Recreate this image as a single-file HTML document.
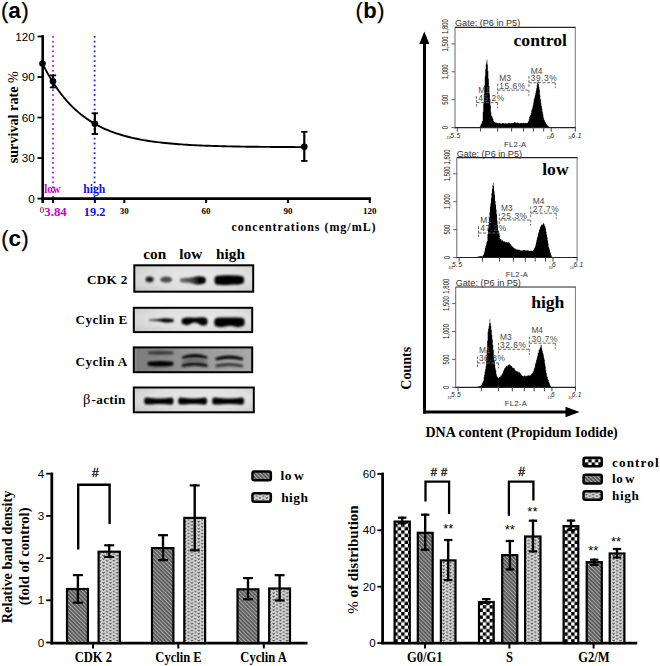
<!DOCTYPE html>
<html><head><meta charset="utf-8"><style>
html,body{margin:0;padding:0;background:#fff;}
svg{display:block;}
</style></head><body>
<svg width="660" height="666" viewBox="0 0 660 666">
<rect width="660" height="666" fill="#fff"/>
<text x="1.00" y="17.70" font-family='"Liberation Sans", sans-serif' font-size="21.7" font-weight="normal" text-anchor="start" fill="#000" stroke="#000" stroke-width="0.25">(</text>
<text x="8.30" y="17.50" font-family='"Liberation Sans", sans-serif' font-size="22.5" font-weight="bold" text-anchor="start" fill="#000" >a</text>
<text x="21.40" y="17.70" font-family='"Liberation Sans", sans-serif' font-size="21.7" font-weight="normal" text-anchor="start" fill="#000" stroke="#000" stroke-width="0.25">)</text>
<rect x="52.10" y="35.90" width="1.8" height="1.8" fill="#a020f0"/>
<rect x="52.10" y="40.75" width="1.8" height="1.8" fill="#a020f0"/>
<rect x="52.10" y="45.60" width="1.8" height="1.8" fill="#a020f0"/>
<rect x="52.10" y="50.45" width="1.8" height="1.8" fill="#a020f0"/>
<rect x="52.10" y="55.30" width="1.8" height="1.8" fill="#a020f0"/>
<rect x="52.10" y="60.15" width="1.8" height="1.8" fill="#a020f0"/>
<rect x="52.10" y="65.00" width="1.8" height="1.8" fill="#a020f0"/>
<rect x="52.10" y="69.85" width="1.8" height="1.8" fill="#a020f0"/>
<rect x="52.10" y="74.70" width="1.8" height="1.8" fill="#a020f0"/>
<rect x="52.10" y="79.55" width="1.8" height="1.8" fill="#a020f0"/>
<rect x="52.10" y="84.40" width="1.8" height="1.8" fill="#a020f0"/>
<rect x="52.10" y="89.25" width="1.8" height="1.8" fill="#a020f0"/>
<rect x="52.10" y="94.10" width="1.8" height="1.8" fill="#a020f0"/>
<rect x="52.10" y="98.95" width="1.8" height="1.8" fill="#a020f0"/>
<rect x="52.10" y="103.80" width="1.8" height="1.8" fill="#a020f0"/>
<rect x="52.10" y="108.65" width="1.8" height="1.8" fill="#a020f0"/>
<rect x="52.10" y="113.50" width="1.8" height="1.8" fill="#a020f0"/>
<rect x="52.10" y="118.35" width="1.8" height="1.8" fill="#a020f0"/>
<rect x="52.10" y="123.20" width="1.8" height="1.8" fill="#a020f0"/>
<rect x="52.10" y="128.05" width="1.8" height="1.8" fill="#a020f0"/>
<rect x="52.10" y="132.90" width="1.8" height="1.8" fill="#a020f0"/>
<rect x="52.10" y="137.75" width="1.8" height="1.8" fill="#a020f0"/>
<rect x="52.10" y="142.60" width="1.8" height="1.8" fill="#a020f0"/>
<rect x="52.10" y="147.45" width="1.8" height="1.8" fill="#a020f0"/>
<rect x="52.10" y="152.30" width="1.8" height="1.8" fill="#a020f0"/>
<rect x="52.10" y="157.15" width="1.8" height="1.8" fill="#a020f0"/>
<rect x="52.10" y="162.00" width="1.8" height="1.8" fill="#a020f0"/>
<rect x="52.10" y="166.85" width="1.8" height="1.8" fill="#a020f0"/>
<rect x="52.10" y="171.70" width="1.8" height="1.8" fill="#a020f0"/>
<rect x="52.10" y="176.55" width="1.8" height="1.8" fill="#a020f0"/>
<rect x="52.10" y="181.40" width="1.8" height="1.8" fill="#a020f0"/>
<rect x="52.10" y="186.25" width="1.8" height="1.8" fill="#a020f0"/>
<rect x="52.10" y="191.10" width="1.8" height="1.8" fill="#a020f0"/>
<rect x="52.10" y="195.95" width="1.8" height="1.8" fill="#a020f0"/>
<rect x="93.70" y="35.90" width="1.8" height="1.8" fill="#2020ff"/>
<rect x="93.70" y="40.75" width="1.8" height="1.8" fill="#2020ff"/>
<rect x="93.70" y="45.60" width="1.8" height="1.8" fill="#2020ff"/>
<rect x="93.70" y="50.45" width="1.8" height="1.8" fill="#2020ff"/>
<rect x="93.70" y="55.30" width="1.8" height="1.8" fill="#2020ff"/>
<rect x="93.70" y="60.15" width="1.8" height="1.8" fill="#2020ff"/>
<rect x="93.70" y="65.00" width="1.8" height="1.8" fill="#2020ff"/>
<rect x="93.70" y="69.85" width="1.8" height="1.8" fill="#2020ff"/>
<rect x="93.70" y="74.70" width="1.8" height="1.8" fill="#2020ff"/>
<rect x="93.70" y="79.55" width="1.8" height="1.8" fill="#2020ff"/>
<rect x="93.70" y="84.40" width="1.8" height="1.8" fill="#2020ff"/>
<rect x="93.70" y="89.25" width="1.8" height="1.8" fill="#2020ff"/>
<rect x="93.70" y="94.10" width="1.8" height="1.8" fill="#2020ff"/>
<rect x="93.70" y="98.95" width="1.8" height="1.8" fill="#2020ff"/>
<rect x="93.70" y="103.80" width="1.8" height="1.8" fill="#2020ff"/>
<rect x="93.70" y="108.65" width="1.8" height="1.8" fill="#2020ff"/>
<rect x="93.70" y="113.50" width="1.8" height="1.8" fill="#2020ff"/>
<rect x="93.70" y="118.35" width="1.8" height="1.8" fill="#2020ff"/>
<rect x="93.70" y="123.20" width="1.8" height="1.8" fill="#2020ff"/>
<rect x="93.70" y="128.05" width="1.8" height="1.8" fill="#2020ff"/>
<rect x="93.70" y="132.90" width="1.8" height="1.8" fill="#2020ff"/>
<rect x="93.70" y="137.75" width="1.8" height="1.8" fill="#2020ff"/>
<rect x="93.70" y="142.60" width="1.8" height="1.8" fill="#2020ff"/>
<rect x="93.70" y="147.45" width="1.8" height="1.8" fill="#2020ff"/>
<rect x="93.70" y="152.30" width="1.8" height="1.8" fill="#2020ff"/>
<rect x="93.70" y="157.15" width="1.8" height="1.8" fill="#2020ff"/>
<rect x="93.70" y="162.00" width="1.8" height="1.8" fill="#2020ff"/>
<rect x="93.70" y="166.85" width="1.8" height="1.8" fill="#2020ff"/>
<rect x="93.70" y="171.70" width="1.8" height="1.8" fill="#2020ff"/>
<rect x="93.70" y="176.55" width="1.8" height="1.8" fill="#2020ff"/>
<rect x="93.70" y="181.40" width="1.8" height="1.8" fill="#2020ff"/>
<rect x="93.70" y="186.25" width="1.8" height="1.8" fill="#2020ff"/>
<rect x="93.70" y="191.10" width="1.8" height="1.8" fill="#2020ff"/>
<rect x="93.70" y="195.95" width="1.8" height="1.8" fill="#2020ff"/>
<line x1="42.70" y1="35.20" x2="42.70" y2="203.00" stroke="#000" stroke-width="2.6" />
<line x1="41.40" y1="198.60" x2="371.00" y2="198.60" stroke="#000" stroke-width="2.7" />
<line x1="37.50" y1="36.48" x2="42.70" y2="36.48" stroke="#000" stroke-width="1.8" />
<text x="34.80" y="40.58" font-family='"Liberation Sans", sans-serif' font-size="11.7" font-weight="normal" text-anchor="end" fill="#000" >120</text>
<line x1="37.50" y1="77.01" x2="42.70" y2="77.01" stroke="#000" stroke-width="1.8" />
<text x="34.80" y="81.11" font-family='"Liberation Sans", sans-serif' font-size="11.7" font-weight="normal" text-anchor="end" fill="#000" >90</text>
<line x1="37.50" y1="117.54" x2="42.70" y2="117.54" stroke="#000" stroke-width="1.8" />
<text x="34.80" y="121.64" font-family='"Liberation Sans", sans-serif' font-size="11.7" font-weight="normal" text-anchor="end" fill="#000" >60</text>
<line x1="37.50" y1="158.07" x2="42.70" y2="158.07" stroke="#000" stroke-width="1.8" />
<text x="34.80" y="162.17" font-family='"Liberation Sans", sans-serif' font-size="11.7" font-weight="normal" text-anchor="end" fill="#000" >30</text>
<line x1="37.50" y1="198.60" x2="42.70" y2="198.60" stroke="#000" stroke-width="1.8" />
<text x="34.80" y="202.70" font-family='"Liberation Sans", sans-serif' font-size="11.7" font-weight="normal" text-anchor="end" fill="#000" >0</text>
<line x1="52.97" y1="198.60" x2="52.97" y2="203.00" stroke="#000" stroke-width="2" />
<line x1="94.86" y1="198.60" x2="94.86" y2="203.00" stroke="#000" stroke-width="2" />
<line x1="124.31" y1="198.60" x2="124.31" y2="203.00" stroke="#000" stroke-width="2" />
<line x1="206.12" y1="198.60" x2="206.12" y2="203.00" stroke="#000" stroke-width="2" />
<line x1="287.93" y1="198.60" x2="287.93" y2="203.00" stroke="#000" stroke-width="2" />
<line x1="369.74" y1="198.60" x2="369.74" y2="203.00" stroke="#000" stroke-width="2" />
<text x="124.31" y="213.90" font-family='"Liberation Serif", serif' font-size="9" font-weight="bold" text-anchor="middle" fill="#000" >30</text>
<text x="206.12" y="213.90" font-family='"Liberation Serif", serif' font-size="9" font-weight="bold" text-anchor="middle" fill="#000" >60</text>
<text x="287.93" y="213.90" font-family='"Liberation Serif", serif' font-size="9" font-weight="bold" text-anchor="middle" fill="#000" >90</text>
<text x="369.74" y="213.90" font-family='"Liberation Serif", serif' font-size="9" font-weight="bold" text-anchor="middle" fill="#000" >120</text>
<text x="41.80" y="213.20" font-family='"Liberation Serif", serif' font-size="8.5" font-weight="normal" text-anchor="middle" fill="#000" >0</text>
<text x="44.30" y="215.60" font-family='"Liberation Serif", serif' font-size="12" font-weight="bold" text-anchor="start" fill="#cc00cc" textLength="22.4" lengthAdjust="spacingAndGlyphs">3.84</text>
<text x="83.80" y="216.00" font-family='"Liberation Serif", serif' font-size="12" font-weight="bold" text-anchor="start" fill="#1010ee" textLength="21.6" lengthAdjust="spacingAndGlyphs">19.2</text>
<text x="44.20" y="192.60" font-family='"Liberation Serif", serif' font-size="11.5" font-weight="bold" text-anchor="start" fill="#cc00cc" textLength="16.3" lengthAdjust="spacingAndGlyphs">low</text>
<text x="83.20" y="192.80" font-family='"Liberation Serif", serif' font-size="11.5" font-weight="bold" text-anchor="start" fill="#1010ee" textLength="22.2" lengthAdjust="spacingAndGlyphs">high</text>
<polyline points="42.50,63.50 45.23,68.87 47.95,73.90 50.68,78.61 53.41,83.01 56.13,87.13 58.86,90.99 61.59,94.60 64.32,97.98 67.04,101.14 69.77,104.10 72.50,106.87 75.22,109.46 77.95,111.88 80.68,114.15 83.41,116.28 86.13,118.27 88.86,120.13 91.59,121.87 94.31,123.50 97.04,125.02 99.77,126.45 102.49,127.78 105.22,129.03 107.95,130.20 110.67,131.30 113.40,132.32 116.13,133.28 118.86,134.18 121.58,135.02 124.31,135.80 127.04,136.54 129.76,137.22 132.49,137.87 135.22,138.47 137.94,139.03 140.67,139.56 143.40,140.06 146.13,140.52 148.85,140.95 151.58,141.36 154.31,141.73 157.03,142.09 159.76,142.42 162.49,142.73 165.21,143.02 167.94,143.29 170.67,143.55 173.40,143.79 176.12,144.01 178.85,144.22 181.58,144.41 184.30,144.60 187.03,144.77 189.76,144.93 192.48,145.08 195.21,145.22 197.94,145.35 200.67,145.47 203.39,145.59 206.12,145.69 208.85,145.79 211.57,145.89 214.30,145.98 217.03,146.06 219.75,146.14 222.48,146.21 225.21,146.28 227.94,146.34 230.66,146.40 233.39,146.45 236.12,146.51 238.84,146.55 241.57,146.60 244.30,146.64 247.02,146.68 249.75,146.72 252.48,146.75 255.21,146.79 257.93,146.82 260.66,146.85 263.39,146.87 266.11,146.90 268.84,146.92 271.57,146.94 274.29,146.96 277.02,146.98 279.75,147.00 282.48,147.02 285.20,147.03 287.93,147.05 290.66,147.06 293.38,147.07 296.11,147.09 298.84,147.10 301.56,147.11 304.29,147.12" fill="none" stroke="#000" stroke-width="1.9"/>
<circle cx="42.50" cy="63.50" r="3.3" fill="#000"/>
<line x1="52.97" y1="74.60" x2="52.97" y2="88.20" stroke="#000" stroke-width="2.2" />
<line x1="49.77" y1="75.40" x2="56.17" y2="75.40" stroke="#000" stroke-width="1.8" />
<line x1="49.77" y1="87.40" x2="56.17" y2="87.40" stroke="#000" stroke-width="1.8" />
<circle cx="52.97" cy="81.33" r="3.3" fill="#000"/>
<line x1="94.86" y1="112.50" x2="94.86" y2="134.80" stroke="#000" stroke-width="2.2" />
<line x1="91.66" y1="113.30" x2="98.06" y2="113.30" stroke="#000" stroke-width="1.8" />
<line x1="91.66" y1="134.00" x2="98.06" y2="134.00" stroke="#000" stroke-width="1.8" />
<circle cx="94.86" cy="123.75" r="3.3" fill="#000"/>
<line x1="304.29" y1="131.00" x2="304.29" y2="161.70" stroke="#000" stroke-width="2.2" />
<line x1="301.09" y1="131.80" x2="307.49" y2="131.80" stroke="#000" stroke-width="1.8" />
<line x1="301.09" y1="160.90" x2="307.49" y2="160.90" stroke="#000" stroke-width="1.8" />
<circle cx="304.29" cy="146.72" r="3.3" fill="#000"/>
<text transform="translate(17.60,117.20) rotate(-90)" x="0" y="0" font-family='"Liberation Serif", serif' font-size="14.2" font-weight="bold" text-anchor="middle" fill="#000" >survival rate <tspan font-weight="normal">%</tspan></text>
<text x="231.40" y="231.40" font-family='"Liberation Serif", serif' font-size="12" font-weight="bold" text-anchor="start" fill="#000" letter-spacing="0.98">concentrations (mg/mL)</text>
<text x="355.60" y="17.70" font-family='"Liberation Sans", sans-serif' font-size="21.7" font-weight="normal" text-anchor="start" fill="#000" stroke="#000" stroke-width="0.25">(</text>
<text x="363.30" y="17.70" font-family='"Liberation Sans", sans-serif' font-size="22" font-weight="bold" text-anchor="start" fill="#000" >b</text>
<text x="377.30" y="17.70" font-family='"Liberation Sans", sans-serif' font-size="21.7" font-weight="normal" text-anchor="start" fill="#000" stroke="#000" stroke-width="0.25">)</text>
<line x1="424.50" y1="42.00" x2="424.50" y2="413.50" stroke="#000" stroke-width="3" />
<polygon points="424.3,31.5 419.3,44 429.4,44" fill="#000"/>
<line x1="423.00" y1="412.00" x2="567.00" y2="412.00" stroke="#000" stroke-width="3" />
<polygon points="579.6,412 565.5,406.8 565.5,417.2" fill="#000"/>
<text transform="translate(410.60,368.30) rotate(-90)" x="0" y="0" font-family='"Liberation Serif", serif' font-size="14" font-weight="bold" text-anchor="middle" fill="#000" >Counts</text>
<text x="425.50" y="437.10" font-family='"Liberation Serif", serif' font-size="14" font-weight="bold" text-anchor="start" fill="#000" >DNA content (Propidum Iodide)</text>
<path d="M479.30,127.60 L479.30,127.60 L479.80,127.60 L479.80,126.46 L480.30,126.46 L480.30,125.50 L480.80,125.50 L480.80,124.28 L481.30,124.28 L481.30,123.55 L481.80,123.55 L481.80,121.86 L482.30,121.86 L482.30,120.76 L482.80,120.76 L482.80,111.84 L483.30,111.84 L483.30,103.57 L483.80,103.57 L483.80,94.00 L484.30,94.00 L484.30,85.38 L484.80,85.38 L484.80,76.57 L485.30,76.57 L485.30,69.18 L485.80,69.18 L485.80,64.61 L486.30,64.61 L486.30,61.63 L486.80,61.63 L486.80,59.50 L487.30,59.50 L487.30,64.61 L487.80,64.61 L487.80,70.91 L488.30,70.91 L488.30,78.87 L488.80,78.87 L488.80,86.04 L489.30,86.04 L489.30,93.53 L489.80,93.53 L489.80,99.31 L490.30,99.31 L490.30,105.50 L490.80,105.50 L490.80,112.43 L491.30,112.43 L491.30,115.69 L491.80,115.69 L491.80,116.51 L492.30,116.51 L492.30,117.62 L492.80,117.62 L492.80,119.11 L493.30,119.11 L493.30,120.81 L493.80,120.81 L493.80,121.91 L494.30,121.91 L494.30,122.24 L494.80,122.24 L494.80,121.75 L495.30,121.75 L495.30,122.73 L495.80,122.73 L495.80,123.00 L496.30,123.00 L496.30,122.62 L496.80,122.62 L496.80,123.22 L497.30,123.22 L497.30,123.01 L497.80,123.01 L497.80,123.14 L498.30,123.14 L498.30,123.53 L498.80,123.53 L498.80,123.04 L499.30,123.04 L499.30,122.81 L499.80,122.81 L499.80,123.50 L500.30,123.50 L500.30,123.46 L500.80,123.46 L500.80,123.30 L501.30,123.30 L501.30,123.69 L501.80,123.69 L501.80,123.26 L502.30,123.26 L502.30,122.97 L502.80,122.97 L502.80,123.15 L503.30,123.15 L503.30,123.29 L503.80,123.29 L503.80,123.00 L504.30,123.00 L504.30,123.71 L504.80,123.71 L504.80,123.33 L505.30,123.33 L505.30,123.50 L505.80,123.50 L505.80,123.26 L506.30,123.26 L506.30,123.70 L506.80,123.70 L506.80,123.03 L507.30,123.03 L507.30,123.66 L507.80,123.66 L507.80,123.57 L508.30,123.57 L508.30,122.91 L508.80,122.91 L508.80,122.75 L509.30,122.75 L509.30,123.22 L509.80,123.22 L509.80,123.21 L510.30,123.21 L510.30,123.35 L510.80,123.35 L510.80,123.29 L511.30,123.29 L511.30,122.92 L511.80,122.92 L511.80,123.33 L512.30,123.33 L512.30,123.32 L512.80,123.32 L512.80,122.88 L513.30,122.88 L513.30,123.07 L513.80,123.07 L513.80,122.49 L514.30,122.49 L514.30,122.22 L514.80,122.22 L514.80,122.16 L515.30,122.16 L515.30,122.47 L515.80,122.47 L515.80,122.68 L516.30,122.68 L516.30,122.67 L516.80,122.67 L516.80,123.18 L517.30,123.18 L517.30,122.56 L517.80,122.56 L517.80,123.01 L518.30,123.01 L518.30,123.11 L518.80,123.11 L518.80,123.42 L519.30,123.42 L519.30,123.14 L519.80,123.14 L519.80,123.09 L520.30,123.09 L520.30,123.30 L520.80,123.30 L520.80,122.82 L521.30,122.82 L521.30,122.99 L521.80,122.99 L521.80,123.40 L522.30,123.40 L522.30,123.11 L522.80,123.11 L522.80,122.72 L523.30,122.72 L523.30,123.09 L523.80,123.09 L523.80,123.00 L524.30,123.00 L524.30,123.51 L524.80,123.51 L524.80,123.08 L525.30,123.08 L525.30,123.09 L525.80,123.09 L525.80,123.14 L526.30,123.14 L526.30,123.11 L526.80,123.11 L526.80,122.93 L527.30,122.93 L527.30,122.96 L527.80,122.96 L527.80,121.80 L528.30,121.80 L528.30,120.93 L528.80,120.93 L528.80,119.33 L529.30,119.33 L529.30,117.04 L529.80,117.04 L529.80,116.04 L530.30,116.04 L530.30,114.89 L530.80,114.89 L530.80,113.13 L531.30,113.13 L531.30,110.42 L531.80,110.42 L531.80,109.22 L532.30,109.22 L532.30,107.21 L532.80,107.21 L532.80,105.23 L533.30,105.23 L533.30,102.40 L533.80,102.40 L533.80,99.27 L534.30,99.27 L534.30,97.81 L534.80,97.81 L534.80,95.58 L535.30,95.58 L535.30,93.21 L535.80,93.21 L535.80,90.63 L536.30,90.63 L536.30,88.23 L536.80,88.23 L536.80,85.30 L537.30,85.30 L537.30,82.55 L537.80,82.55 L537.80,80.38 L538.30,80.38 L538.30,84.00 L538.80,84.00 L538.80,86.82 L539.30,86.82 L539.30,89.78 L539.80,89.78 L539.80,95.15 L540.30,95.15 L540.30,99.19 L540.80,99.19 L540.80,102.74 L541.30,102.74 L541.30,105.97 L541.80,105.97 L541.80,108.82 L542.30,108.82 L542.30,111.70 L542.80,111.70 L542.80,114.17 L543.30,114.17 L543.30,117.40 L543.80,117.40 L543.80,119.45 L544.30,119.45 L544.30,120.28 L544.80,120.28 L544.80,121.82 L545.30,121.82 L545.30,122.37 L545.80,122.37 L545.80,123.50 L546.30,123.50 L546.30,124.08 L546.80,124.08 L546.80,125.41 L547.30,125.41 L547.30,125.20 L547.80,125.20 L547.80,125.90 L548.30,125.90 L548.30,126.31 L548.80,126.31 L548.80,127.26 L549.30,127.26 L549.10,127.60 Z" fill="#000"/>
<line x1="455.00" y1="27.40" x2="575.80" y2="27.40" stroke="#222" stroke-width="1.2" />
<line x1="575.30" y1="27.40" x2="575.30" y2="127.60" stroke="#777" stroke-width="1" />
<line x1="455.00" y1="27.40" x2="455.00" y2="128.60" stroke="#666" stroke-width="1" />
<line x1="454.50" y1="127.60" x2="575.80" y2="127.60" stroke="#222" stroke-width="1.2" />
<line x1="451.40" y1="127.60" x2="455.00" y2="127.60" stroke="#666" stroke-width="1" />
<line x1="451.40" y1="99.70" x2="455.00" y2="99.70" stroke="#666" stroke-width="1" />
<line x1="451.40" y1="71.80" x2="455.00" y2="71.80" stroke="#666" stroke-width="1" />
<line x1="451.40" y1="43.90" x2="455.00" y2="43.90" stroke="#666" stroke-width="1" />
<text transform="translate(447.80,127.60) rotate(-90) scale(0.68,1)" font-family='"Liberation Sans", sans-serif' font-size="8.8" text-anchor="middle" fill="#1a1a1a">0</text>
<text transform="translate(447.80,99.70) rotate(-90) scale(0.68,1)" font-family='"Liberation Sans", sans-serif' font-size="8.8" text-anchor="middle" fill="#1a1a1a">500</text>
<text transform="translate(447.80,71.80) rotate(-90) scale(0.68,1)" font-family='"Liberation Sans", sans-serif' font-size="8.8" text-anchor="middle" fill="#1a1a1a">1,000</text>
<text transform="translate(447.80,43.90) rotate(-90) scale(0.68,1)" font-family='"Liberation Sans", sans-serif' font-size="8.8" text-anchor="middle" fill="#1a1a1a">1,500</text>
<text transform="translate(447.80,26.60) rotate(-90) scale(0.68,1)" font-family='"Liberation Sans", sans-serif' font-size="8.8" text-anchor="middle" fill="#1a1a1a">1,800</text>
<line x1="457.30" y1="127.60" x2="457.30" y2="131.60" stroke="#444" stroke-width="1" />
<line x1="480.60" y1="127.60" x2="480.60" y2="131.60" stroke="#444" stroke-width="1" />
<line x1="497.70" y1="127.60" x2="497.70" y2="131.60" stroke="#444" stroke-width="1" />
<line x1="511.60" y1="127.60" x2="511.60" y2="131.60" stroke="#444" stroke-width="1" />
<line x1="523.60" y1="127.60" x2="523.60" y2="131.60" stroke="#444" stroke-width="1" />
<line x1="533.40" y1="127.60" x2="533.40" y2="131.60" stroke="#444" stroke-width="1" />
<line x1="543.70" y1="127.60" x2="543.70" y2="131.60" stroke="#444" stroke-width="1" />
<line x1="551.20" y1="127.60" x2="551.20" y2="131.60" stroke="#444" stroke-width="1" />
<line x1="575.30" y1="127.60" x2="575.30" y2="131.60" stroke="#444" stroke-width="1" />
<text x="446.60" y="139.40" font-family='"Liberation Sans", sans-serif' font-size="4.0" font-weight="normal" text-anchor="start" fill="#333" font-style="italic">10</text>
<text x="450.30" y="137.50" font-family='"Liberation Sans", sans-serif' font-size="6.6" font-weight="normal" text-anchor="start" fill="#222" font-style="italic" letter-spacing="0.3">5.5</text>
<text x="546.60" y="139.40" font-family='"Liberation Sans", sans-serif' font-size="4.0" font-weight="normal" text-anchor="start" fill="#333" font-style="italic">10</text>
<text x="550.30" y="137.50" font-family='"Liberation Sans", sans-serif' font-size="6.6" font-weight="normal" text-anchor="start" fill="#222" font-style="italic" letter-spacing="0.3">6</text>
<text x="567.90" y="139.40" font-family='"Liberation Sans", sans-serif' font-size="4.0" font-weight="normal" text-anchor="start" fill="#333" font-style="italic">10</text>
<text x="571.60" y="137.50" font-family='"Liberation Sans", sans-serif' font-size="6.6" font-weight="normal" text-anchor="start" fill="#222" font-style="italic" letter-spacing="0.3">6.1</text>
<text x="504.00" y="146.60" font-family='"Liberation Sans", sans-serif' font-size="7.6" font-weight="normal" text-anchor="start" fill="#333" letter-spacing="0.35">FL2-A</text>
<text x="455.00" y="26.20" font-family='"Liberation Sans", sans-serif' font-size="9.1" font-weight="normal" text-anchor="start" fill="#333" >Gate: (P6 in P5)</text>
<text x="567.00" y="46.40" font-family='"Liberation Serif", serif' font-size="17.6" font-weight="bold" text-anchor="end" fill="#000" >control</text>
<text x="478.20" y="92.60" font-family='"Liberation Sans", sans-serif' font-size="8.4" font-weight="normal" text-anchor="start" fill="#4a4a4a" >M1</text>
<text x="478.20" y="100.80" font-family='"Liberation Sans", sans-serif' font-size="8.4" font-weight="normal" text-anchor="start" fill="#4a4a4a" letter-spacing="0.55">45.2%</text>
<line x1="476.60" y1="102.60" x2="497.70" y2="102.60" stroke="#666" stroke-width="1" stroke-dasharray="3,1.6"/>
<line x1="476.60" y1="96.10" x2="476.60" y2="108.10" stroke="#666" stroke-width="1" stroke-dasharray="2.5,1.5"/>
<line x1="497.70" y1="102.60" x2="497.70" y2="108.10" stroke="#666" stroke-width="1" stroke-dasharray="2.5,1.5"/>
<text x="499.30" y="80.60" font-family='"Liberation Sans", sans-serif' font-size="8.4" font-weight="normal" text-anchor="start" fill="#4a4a4a" >M3</text>
<text x="499.30" y="88.50" font-family='"Liberation Sans", sans-serif' font-size="8.4" font-weight="normal" text-anchor="start" fill="#4a4a4a" letter-spacing="0.55">15.6%</text>
<line x1="497.70" y1="90.20" x2="528.90" y2="90.20" stroke="#666" stroke-width="1" stroke-dasharray="3,1.6"/>
<line x1="497.70" y1="83.70" x2="497.70" y2="95.70" stroke="#666" stroke-width="1" stroke-dasharray="2.5,1.5"/>
<line x1="528.90" y1="90.20" x2="528.90" y2="95.70" stroke="#666" stroke-width="1" stroke-dasharray="2.5,1.5"/>
<text x="530.70" y="74.20" font-family='"Liberation Sans", sans-serif' font-size="8.4" font-weight="normal" text-anchor="start" fill="#4a4a4a" >M4</text>
<text x="530.70" y="81.40" font-family='"Liberation Sans", sans-serif' font-size="8.4" font-weight="normal" text-anchor="start" fill="#4a4a4a" letter-spacing="0.55">39.3%</text>
<line x1="528.90" y1="82.70" x2="555.30" y2="82.70" stroke="#666" stroke-width="1" stroke-dasharray="3,1.6"/>
<line x1="528.90" y1="76.20" x2="528.90" y2="88.20" stroke="#666" stroke-width="1" stroke-dasharray="2.5,1.5"/>
<line x1="555.30" y1="82.70" x2="555.30" y2="88.20" stroke="#666" stroke-width="1" stroke-dasharray="2.5,1.5"/>
<path d="M470.00,257.50 L470.00,257.50 L470.50,257.50 L470.50,257.46 L471.00,257.46 L471.00,257.42 L471.50,257.42 L471.50,257.38 L472.00,257.38 L472.00,257.33 L472.50,257.33 L472.50,257.29 L473.00,257.29 L473.00,257.25 L473.50,257.25 L473.50,257.21 L474.00,257.21 L474.00,257.17 L474.50,257.17 L474.50,257.12 L475.00,257.12 L475.00,257.08 L475.50,257.08 L475.50,257.04 L476.00,257.04 L476.00,257.00 L476.50,257.00 L476.50,256.92 L477.00,256.92 L477.00,256.84 L477.50,256.84 L477.50,256.76 L478.00,256.76 L478.00,256.66 L478.50,256.66 L478.50,256.35 L479.00,256.35 L479.00,256.14 L479.50,256.14 L479.50,256.62 L480.00,256.62 L480.00,256.14 L480.50,256.14 L480.50,256.11 L481.00,256.11 L481.00,256.07 L481.50,256.07 L481.50,256.46 L482.00,256.46 L482.00,256.45 L482.50,256.45 L482.50,255.79 L483.00,255.79 L483.00,254.70 L483.50,254.70 L483.50,254.39 L484.00,254.39 L484.00,252.41 L484.50,252.41 L484.50,250.62 L485.00,250.62 L485.00,248.04 L485.50,248.04 L485.50,245.90 L486.00,245.90 L486.00,244.60 L486.50,244.60 L486.50,241.79 L487.00,241.79 L487.00,241.15 L487.50,241.15 L487.50,234.37 L488.00,234.37 L488.00,228.65 L488.50,228.65 L488.50,224.18 L489.00,224.18 L489.00,217.67 L489.50,217.67 L489.50,212.28 L490.00,212.28 L490.00,206.47 L490.50,206.47 L490.50,203.16 L491.00,203.16 L491.00,198.14 L491.50,198.14 L491.50,193.09 L492.00,193.09 L492.00,188.98 L492.50,188.98 L492.50,185.01 L493.00,185.01 L493.00,182.69 L493.50,182.69 L493.50,185.93 L494.00,185.93 L494.00,191.28 L494.50,191.28 L494.50,195.05 L495.00,195.05 L495.00,201.03 L495.50,201.03 L495.50,204.73 L496.00,204.73 L496.00,209.60 L496.50,209.60 L496.50,214.30 L497.00,214.30 L497.00,220.62 L497.50,220.62 L497.50,224.93 L498.00,224.93 L498.00,230.32 L498.50,230.32 L498.50,231.57 L499.00,231.57 L499.00,234.58 L499.50,234.58 L499.50,235.99 L500.00,235.99 L500.00,239.29 L500.50,239.29 L500.50,239.07 L501.00,239.07 L501.00,239.32 L501.50,239.32 L501.50,240.66 L502.00,240.66 L502.00,240.57 L502.50,240.57 L502.50,240.38 L503.00,240.38 L503.00,241.23 L503.50,241.23 L503.50,241.60 L504.00,241.60 L504.00,241.85 L504.50,241.85 L504.50,241.23 L505.00,241.23 L505.00,242.20 L505.50,242.20 L505.50,241.73 L506.00,241.73 L506.00,241.92 L506.50,241.92 L506.50,242.01 L507.00,242.01 L507.00,242.70 L507.50,242.70 L507.50,242.04 L508.00,242.04 L508.00,241.76 L508.50,241.76 L508.50,242.69 L509.00,242.69 L509.00,242.85 L509.50,242.85 L509.50,242.65 L510.00,242.65 L510.00,243.70 L510.50,243.70 L510.50,244.71 L511.00,244.71 L511.00,245.64 L511.50,245.64 L511.50,245.23 L512.00,245.23 L512.00,246.30 L512.50,246.30 L512.50,246.71 L513.00,246.71 L513.00,247.50 L513.50,247.50 L513.50,247.62 L514.00,247.62 L514.00,247.93 L514.50,247.93 L514.50,248.74 L515.00,248.74 L515.00,249.33 L515.50,249.33 L515.50,248.62 L516.00,248.62 L516.00,249.04 L516.50,249.04 L516.50,250.12 L517.00,250.12 L517.00,249.59 L517.50,249.59 L517.50,249.54 L518.00,249.54 L518.00,249.93 L518.50,249.93 L518.50,249.65 L519.00,249.65 L519.00,249.48 L519.50,249.48 L519.50,249.93 L520.00,249.93 L520.00,250.18 L520.50,250.18 L520.50,250.44 L521.00,250.44 L521.00,250.41 L521.50,250.41 L521.50,250.56 L522.00,250.56 L522.00,250.64 L522.50,250.64 L522.50,250.56 L523.00,250.56 L523.00,249.91 L523.50,249.91 L523.50,250.28 L524.00,250.28 L524.00,250.02 L524.50,250.02 L524.50,249.94 L525.00,249.94 L525.00,250.09 L525.50,250.09 L525.50,250.95 L526.00,250.95 L526.00,250.04 L526.50,250.04 L526.50,250.95 L527.00,250.95 L527.00,250.24 L527.50,250.24 L527.50,250.18 L528.00,250.18 L528.00,250.39 L528.50,250.39 L528.50,250.68 L529.00,250.68 L529.00,251.05 L529.50,251.05 L529.50,251.05 L530.00,251.05 L530.00,250.47 L530.50,250.47 L530.50,250.91 L531.00,250.91 L531.00,250.61 L531.50,250.61 L531.50,250.91 L532.00,250.91 L532.00,251.04 L532.50,251.04 L532.50,250.91 L533.00,250.91 L533.00,250.07 L533.50,250.07 L533.50,249.38 L534.00,249.38 L534.00,248.53 L534.50,248.53 L534.50,247.47 L535.00,247.47 L535.00,246.43 L535.50,246.43 L535.50,244.42 L536.00,244.42 L536.00,242.47 L536.50,242.47 L536.50,239.64 L537.00,239.64 L537.00,237.80 L537.50,237.80 L537.50,236.37 L538.00,236.37 L538.00,233.96 L538.50,233.96 L538.50,231.91 L539.00,231.91 L539.00,229.62 L539.50,229.62 L539.50,229.18 L540.00,229.18 L540.00,227.06 L540.50,227.06 L540.50,226.37 L541.00,226.37 L541.00,225.62 L541.50,225.62 L541.50,224.48 L542.00,224.48 L542.00,225.00 L542.50,225.00 L542.50,224.21 L543.00,224.21 L543.00,223.26 L543.50,223.26 L543.50,223.47 L544.00,223.47 L544.00,224.15 L544.50,224.15 L544.50,226.09 L545.00,226.09 L545.00,226.63 L545.50,226.63 L545.50,228.57 L546.00,228.57 L546.00,231.74 L546.50,231.74 L546.50,234.69 L547.00,234.69 L547.00,237.35 L547.50,237.35 L547.50,240.51 L548.00,240.51 L548.00,243.54 L548.50,243.54 L548.50,246.79 L549.00,246.79 L549.00,248.35 L549.50,248.35 L549.50,250.25 L550.00,250.25 L550.00,252.24 L550.50,252.24 L550.50,253.86 L551.00,253.86 L551.00,255.18 L551.50,255.18 L551.50,256.44 L552.00,256.44 L551.90,257.50 Z" fill="#000"/>
<line x1="456.80" y1="157.70" x2="577.60" y2="157.70" stroke="#222" stroke-width="1.2" />
<line x1="577.10" y1="157.70" x2="577.10" y2="257.50" stroke="#777" stroke-width="1" />
<line x1="456.80" y1="157.70" x2="456.80" y2="258.50" stroke="#666" stroke-width="1" />
<line x1="456.30" y1="257.50" x2="577.60" y2="257.50" stroke="#222" stroke-width="1.2" />
<line x1="453.20" y1="257.50" x2="456.80" y2="257.50" stroke="#666" stroke-width="1" />
<line x1="453.20" y1="229.60" x2="456.80" y2="229.60" stroke="#666" stroke-width="1" />
<line x1="453.20" y1="201.70" x2="456.80" y2="201.70" stroke="#666" stroke-width="1" />
<line x1="453.20" y1="173.80" x2="456.80" y2="173.80" stroke="#666" stroke-width="1" />
<text transform="translate(449.60,257.50) rotate(-90) scale(0.68,1)" font-family='"Liberation Sans", sans-serif' font-size="8.8" text-anchor="middle" fill="#1a1a1a">0</text>
<text transform="translate(449.60,229.60) rotate(-90) scale(0.68,1)" font-family='"Liberation Sans", sans-serif' font-size="8.8" text-anchor="middle" fill="#1a1a1a">500</text>
<text transform="translate(449.60,201.70) rotate(-90) scale(0.68,1)" font-family='"Liberation Sans", sans-serif' font-size="8.8" text-anchor="middle" fill="#1a1a1a">1,000</text>
<text transform="translate(449.60,173.80) rotate(-90) scale(0.68,1)" font-family='"Liberation Sans", sans-serif' font-size="8.8" text-anchor="middle" fill="#1a1a1a">1,500</text>
<text transform="translate(449.60,156.90) rotate(-90) scale(0.68,1)" font-family='"Liberation Sans", sans-serif' font-size="8.8" text-anchor="middle" fill="#1a1a1a">1,800</text>
<line x1="459.10" y1="257.50" x2="459.10" y2="261.50" stroke="#444" stroke-width="1" />
<line x1="482.40" y1="257.50" x2="482.40" y2="261.50" stroke="#444" stroke-width="1" />
<line x1="499.50" y1="257.50" x2="499.50" y2="261.50" stroke="#444" stroke-width="1" />
<line x1="513.40" y1="257.50" x2="513.40" y2="261.50" stroke="#444" stroke-width="1" />
<line x1="525.40" y1="257.50" x2="525.40" y2="261.50" stroke="#444" stroke-width="1" />
<line x1="535.20" y1="257.50" x2="535.20" y2="261.50" stroke="#444" stroke-width="1" />
<line x1="545.50" y1="257.50" x2="545.50" y2="261.50" stroke="#444" stroke-width="1" />
<line x1="553.00" y1="257.50" x2="553.00" y2="261.50" stroke="#444" stroke-width="1" />
<line x1="577.10" y1="257.50" x2="577.10" y2="261.50" stroke="#444" stroke-width="1" />
<text x="448.40" y="269.30" font-family='"Liberation Sans", sans-serif' font-size="4.0" font-weight="normal" text-anchor="start" fill="#333" font-style="italic">10</text>
<text x="452.10" y="267.40" font-family='"Liberation Sans", sans-serif' font-size="6.6" font-weight="normal" text-anchor="start" fill="#222" font-style="italic" letter-spacing="0.3">5.5</text>
<text x="548.40" y="269.30" font-family='"Liberation Sans", sans-serif' font-size="4.0" font-weight="normal" text-anchor="start" fill="#333" font-style="italic">10</text>
<text x="552.10" y="267.40" font-family='"Liberation Sans", sans-serif' font-size="6.6" font-weight="normal" text-anchor="start" fill="#222" font-style="italic" letter-spacing="0.3">6</text>
<text x="569.70" y="269.30" font-family='"Liberation Sans", sans-serif' font-size="4.0" font-weight="normal" text-anchor="start" fill="#333" font-style="italic">10</text>
<text x="573.40" y="267.40" font-family='"Liberation Sans", sans-serif' font-size="6.6" font-weight="normal" text-anchor="start" fill="#222" font-style="italic" letter-spacing="0.3">6.1</text>
<text x="505.80" y="276.50" font-family='"Liberation Sans", sans-serif' font-size="7.6" font-weight="normal" text-anchor="start" fill="#333" letter-spacing="0.35">FL2-A</text>
<text x="456.80" y="156.50" font-family='"Liberation Sans", sans-serif' font-size="9.1" font-weight="normal" text-anchor="start" fill="#333" >Gate: (P6 in P5)</text>
<text x="568.60" y="174.60" font-family='"Liberation Serif", serif' font-size="17.6" font-weight="bold" text-anchor="end" fill="#000" >low</text>
<text x="480.20" y="223.00" font-family='"Liberation Sans", sans-serif' font-size="8.4" font-weight="normal" text-anchor="start" fill="#4a4a4a" >M1</text>
<text x="480.20" y="231.30" font-family='"Liberation Sans", sans-serif' font-size="8.4" font-weight="normal" text-anchor="start" fill="#4a4a4a" letter-spacing="0.55">47.2%</text>
<line x1="478.50" y1="233.00" x2="499.30" y2="233.00" stroke="#666" stroke-width="1" stroke-dasharray="3,1.6"/>
<line x1="478.50" y1="226.50" x2="478.50" y2="238.50" stroke="#666" stroke-width="1" stroke-dasharray="2.5,1.5"/>
<line x1="499.30" y1="233.00" x2="499.30" y2="238.50" stroke="#666" stroke-width="1" stroke-dasharray="2.5,1.5"/>
<text x="501.10" y="210.80" font-family='"Liberation Sans", sans-serif' font-size="8.4" font-weight="normal" text-anchor="start" fill="#4a4a4a" >M3</text>
<text x="501.10" y="218.70" font-family='"Liberation Sans", sans-serif' font-size="8.4" font-weight="normal" text-anchor="start" fill="#4a4a4a" letter-spacing="0.55">25.3%</text>
<line x1="499.30" y1="220.00" x2="530.70" y2="220.00" stroke="#666" stroke-width="1" stroke-dasharray="3,1.6"/>
<line x1="499.30" y1="213.50" x2="499.30" y2="225.50" stroke="#666" stroke-width="1" stroke-dasharray="2.5,1.5"/>
<line x1="530.70" y1="220.00" x2="530.70" y2="225.50" stroke="#666" stroke-width="1" stroke-dasharray="2.5,1.5"/>
<text x="532.80" y="203.90" font-family='"Liberation Sans", sans-serif' font-size="8.4" font-weight="normal" text-anchor="start" fill="#4a4a4a" >M4</text>
<text x="532.80" y="211.90" font-family='"Liberation Sans", sans-serif' font-size="8.4" font-weight="normal" text-anchor="start" fill="#4a4a4a" letter-spacing="0.55">27.7%</text>
<line x1="530.70" y1="213.20" x2="556.20" y2="213.20" stroke="#666" stroke-width="1" stroke-dasharray="3,1.6"/>
<line x1="530.70" y1="206.70" x2="530.70" y2="218.70" stroke="#666" stroke-width="1" stroke-dasharray="2.5,1.5"/>
<line x1="556.20" y1="213.20" x2="556.20" y2="218.70" stroke="#666" stroke-width="1" stroke-dasharray="2.5,1.5"/>
<path d="M472.70,387.30 L472.70,387.30 L473.20,387.30 L473.20,387.24 L473.70,387.24 L473.70,387.19 L474.20,387.19 L474.20,387.13 L474.70,387.13 L474.70,387.07 L475.20,387.07 L475.20,387.02 L475.70,387.02 L475.70,386.96 L476.20,386.96 L476.20,386.90 L476.70,386.90 L476.70,386.85 L477.20,386.85 L477.20,386.79 L477.70,386.79 L477.70,386.73 L478.20,386.73 L478.20,386.65 L478.70,386.65 L478.70,386.54 L479.20,386.54 L479.20,386.25 L479.70,386.25 L479.70,386.03 L480.20,386.03 L480.20,386.47 L480.70,386.47 L480.70,384.91 L481.20,384.91 L481.20,384.76 L481.70,384.76 L481.70,383.47 L482.20,383.47 L482.20,383.17 L482.70,383.17 L482.70,381.65 L483.20,381.65 L483.20,380.67 L483.70,380.67 L483.70,377.26 L484.20,377.26 L484.20,374.44 L484.70,374.44 L484.70,371.58 L485.20,371.58 L485.20,369.27 L485.70,369.27 L485.70,365.81 L486.20,365.81 L486.20,357.09 L486.70,357.09 L486.70,349.97 L487.20,349.97 L487.20,340.80 L487.70,340.80 L487.70,331.57 L488.20,331.57 L488.20,328.82 L488.70,328.82 L488.70,326.20 L489.20,326.20 L489.20,323.33 L489.70,323.33 L489.70,319.19 L490.20,319.19 L490.20,323.10 L490.70,323.10 L490.70,325.95 L491.20,325.95 L491.20,329.74 L491.70,329.74 L491.70,334.76 L492.20,334.76 L492.20,339.56 L492.70,339.56 L492.70,344.95 L493.20,344.95 L493.20,349.93 L493.70,349.93 L493.70,355.57 L494.20,355.57 L494.20,360.08 L494.70,360.08 L494.70,364.86 L495.20,364.86 L495.20,368.54 L495.70,368.54 L495.70,370.39 L496.20,370.39 L496.20,374.25 L496.70,374.25 L496.70,376.26 L497.20,376.26 L497.20,376.69 L497.70,376.69 L497.70,377.67 L498.20,377.67 L498.20,378.13 L498.70,378.13 L498.70,377.42 L499.20,377.42 L499.20,377.07 L499.70,377.07 L499.70,377.28 L500.20,377.28 L500.20,376.20 L500.70,376.20 L500.70,375.47 L501.20,375.47 L501.20,375.53 L501.70,375.53 L501.70,374.01 L502.20,374.01 L502.20,373.47 L502.70,373.47 L502.70,372.50 L503.20,372.50 L503.20,371.03 L503.70,371.03 L503.70,369.75 L504.20,369.75 L504.20,368.27 L504.70,368.27 L504.70,368.58 L505.20,368.58 L505.20,367.45 L505.70,367.45 L505.70,366.24 L506.20,366.24 L506.20,366.18 L506.70,366.18 L506.70,366.13 L507.20,366.13 L507.20,366.16 L507.70,366.16 L507.70,365.11 L508.20,365.11 L508.20,365.28 L508.70,365.28 L508.70,364.24 L509.20,364.24 L509.20,364.32 L509.70,364.32 L509.70,365.16 L510.20,365.16 L510.20,364.94 L510.70,364.94 L510.70,365.99 L511.20,365.99 L511.20,366.31 L511.70,366.31 L511.70,366.16 L512.20,366.16 L512.20,367.52 L512.70,367.52 L512.70,368.05 L513.20,368.05 L513.20,367.86 L513.70,367.86 L513.70,368.50 L514.20,368.50 L514.20,368.35 L514.70,368.35 L514.70,369.82 L515.20,369.82 L515.20,370.16 L515.70,370.16 L515.70,371.14 L516.20,371.14 L516.20,370.98 L516.70,370.98 L516.70,371.45 L517.20,371.45 L517.20,371.53 L517.70,371.53 L517.70,371.36 L518.20,371.36 L518.20,372.66 L518.70,372.66 L518.70,371.60 L519.20,371.60 L519.20,372.31 L519.70,372.31 L519.70,372.69 L520.20,372.69 L520.20,373.58 L520.70,373.58 L520.70,374.05 L521.20,374.05 L521.20,374.78 L521.70,374.78 L521.70,375.31 L522.20,375.31 L522.20,376.04 L522.70,376.04 L522.70,376.24 L523.20,376.24 L523.20,376.22 L523.70,376.22 L523.70,376.14 L524.20,376.14 L524.20,375.39 L524.70,375.39 L524.70,375.50 L525.20,375.50 L525.20,375.67 L525.70,375.67 L525.70,376.43 L526.20,376.43 L526.20,376.08 L526.70,376.08 L526.70,375.67 L527.20,375.67 L527.20,375.43 L527.70,375.43 L527.70,375.72 L528.20,375.72 L528.20,375.40 L528.70,375.40 L528.70,375.00 L529.20,375.00 L529.20,375.76 L529.70,375.76 L529.70,375.56 L530.20,375.56 L530.20,375.02 L530.70,375.02 L530.70,375.53 L531.20,375.53 L531.20,374.10 L531.70,374.10 L531.70,373.62 L532.20,373.62 L532.20,373.23 L532.70,373.23 L532.70,371.71 L533.20,371.71 L533.20,371.37 L533.70,371.37 L533.70,369.40 L534.20,369.40 L534.20,368.13 L534.70,368.13 L534.70,366.41 L535.20,366.41 L535.20,363.61 L535.70,363.61 L535.70,362.50 L536.20,362.50 L536.20,359.92 L536.70,359.92 L536.70,358.15 L537.20,358.15 L537.20,356.15 L537.70,356.15 L537.70,353.02 L538.20,353.02 L538.20,352.86 L538.70,352.86 L538.70,350.05 L539.20,350.05 L539.20,349.26 L539.70,349.26 L539.70,347.63 L540.20,347.63 L540.20,347.28 L540.70,347.28 L540.70,344.51 L541.20,344.51 L541.20,345.44 L541.70,345.44 L541.70,348.72 L542.20,348.72 L542.20,350.77 L542.70,350.77 L542.70,353.02 L543.20,353.02 L543.20,354.61 L543.70,354.61 L543.70,357.47 L544.20,357.47 L544.20,359.62 L544.70,359.62 L544.70,363.40 L545.20,363.40 L545.20,366.36 L545.70,366.36 L545.70,370.35 L546.20,370.35 L546.20,373.07 L546.70,373.07 L546.70,375.66 L547.20,375.66 L547.20,377.10 L547.70,377.10 L547.70,379.05 L548.20,379.05 L548.20,380.10 L548.70,380.10 L548.70,381.95 L549.20,381.95 L549.20,383.35 L549.70,383.35 L549.70,384.72 L550.20,384.72 L550.20,385.75 L550.70,385.75 L550.70,386.68 L551.20,386.68 L551.20,387.30 Z" fill="#000"/>
<line x1="455.70" y1="287.00" x2="575.90" y2="287.00" stroke="#222" stroke-width="1.2" />
<line x1="575.40" y1="287.00" x2="575.40" y2="387.30" stroke="#777" stroke-width="1" />
<line x1="455.70" y1="287.00" x2="455.70" y2="388.30" stroke="#666" stroke-width="1" />
<line x1="455.20" y1="387.30" x2="575.90" y2="387.30" stroke="#222" stroke-width="1.2" />
<line x1="452.10" y1="387.30" x2="455.70" y2="387.30" stroke="#666" stroke-width="1" />
<line x1="452.10" y1="359.40" x2="455.70" y2="359.40" stroke="#666" stroke-width="1" />
<line x1="452.10" y1="331.50" x2="455.70" y2="331.50" stroke="#666" stroke-width="1" />
<line x1="452.10" y1="303.60" x2="455.70" y2="303.60" stroke="#666" stroke-width="1" />
<text transform="translate(448.50,387.30) rotate(-90) scale(0.68,1)" font-family='"Liberation Sans", sans-serif' font-size="8.8" text-anchor="middle" fill="#1a1a1a">0</text>
<text transform="translate(448.50,359.40) rotate(-90) scale(0.68,1)" font-family='"Liberation Sans", sans-serif' font-size="8.8" text-anchor="middle" fill="#1a1a1a">500</text>
<text transform="translate(448.50,331.50) rotate(-90) scale(0.68,1)" font-family='"Liberation Sans", sans-serif' font-size="8.8" text-anchor="middle" fill="#1a1a1a">1,000</text>
<text transform="translate(448.50,303.60) rotate(-90) scale(0.68,1)" font-family='"Liberation Sans", sans-serif' font-size="8.8" text-anchor="middle" fill="#1a1a1a">1,500</text>
<text transform="translate(448.50,286.20) rotate(-90) scale(0.68,1)" font-family='"Liberation Sans", sans-serif' font-size="8.8" text-anchor="middle" fill="#1a1a1a">1,800</text>
<line x1="458.00" y1="387.30" x2="458.00" y2="391.30" stroke="#444" stroke-width="1" />
<line x1="481.30" y1="387.30" x2="481.30" y2="391.30" stroke="#444" stroke-width="1" />
<line x1="498.40" y1="387.30" x2="498.40" y2="391.30" stroke="#444" stroke-width="1" />
<line x1="512.30" y1="387.30" x2="512.30" y2="391.30" stroke="#444" stroke-width="1" />
<line x1="524.30" y1="387.30" x2="524.30" y2="391.30" stroke="#444" stroke-width="1" />
<line x1="534.10" y1="387.30" x2="534.10" y2="391.30" stroke="#444" stroke-width="1" />
<line x1="544.40" y1="387.30" x2="544.40" y2="391.30" stroke="#444" stroke-width="1" />
<line x1="551.90" y1="387.30" x2="551.90" y2="391.30" stroke="#444" stroke-width="1" />
<line x1="575.40" y1="387.30" x2="575.40" y2="391.30" stroke="#444" stroke-width="1" />
<text x="447.30" y="399.10" font-family='"Liberation Sans", sans-serif' font-size="4.0" font-weight="normal" text-anchor="start" fill="#333" font-style="italic">10</text>
<text x="451.00" y="397.20" font-family='"Liberation Sans", sans-serif' font-size="6.6" font-weight="normal" text-anchor="start" fill="#222" font-style="italic" letter-spacing="0.3">5.5</text>
<text x="547.30" y="399.10" font-family='"Liberation Sans", sans-serif' font-size="4.0" font-weight="normal" text-anchor="start" fill="#333" font-style="italic">10</text>
<text x="551.00" y="397.20" font-family='"Liberation Sans", sans-serif' font-size="6.6" font-weight="normal" text-anchor="start" fill="#222" font-style="italic" letter-spacing="0.3">6</text>
<text x="568.00" y="399.10" font-family='"Liberation Sans", sans-serif' font-size="4.0" font-weight="normal" text-anchor="start" fill="#333" font-style="italic">10</text>
<text x="571.70" y="397.20" font-family='"Liberation Sans", sans-serif' font-size="6.6" font-weight="normal" text-anchor="start" fill="#222" font-style="italic" letter-spacing="0.3">6.1</text>
<text x="504.70" y="406.30" font-family='"Liberation Sans", sans-serif' font-size="7.6" font-weight="normal" text-anchor="start" fill="#333" letter-spacing="0.35">FL2-A</text>
<text x="455.70" y="285.80" font-family='"Liberation Sans", sans-serif' font-size="9.1" font-weight="normal" text-anchor="start" fill="#333" >Gate: (P6 in P5)</text>
<text x="564.40" y="308.20" font-family='"Liberation Serif", serif' font-size="17.6" font-weight="bold" text-anchor="end" fill="#000" >high</text>
<text x="478.90" y="353.00" font-family='"Liberation Sans", sans-serif' font-size="8.4" font-weight="normal" text-anchor="start" fill="#4a4a4a" >M1</text>
<text x="478.90" y="361.00" font-family='"Liberation Sans", sans-serif' font-size="8.4" font-weight="normal" text-anchor="start" fill="#4a4a4a" letter-spacing="0.55">36.8%</text>
<line x1="477.50" y1="363.00" x2="498.60" y2="363.00" stroke="#666" stroke-width="1" stroke-dasharray="3,1.6"/>
<line x1="477.50" y1="356.50" x2="477.50" y2="368.50" stroke="#666" stroke-width="1" stroke-dasharray="2.5,1.5"/>
<line x1="498.60" y1="363.00" x2="498.60" y2="368.50" stroke="#666" stroke-width="1" stroke-dasharray="2.5,1.5"/>
<text x="500.00" y="340.10" font-family='"Liberation Sans", sans-serif' font-size="8.4" font-weight="normal" text-anchor="start" fill="#4a4a4a" >M3</text>
<text x="500.00" y="348.30" font-family='"Liberation Sans", sans-serif' font-size="8.4" font-weight="normal" text-anchor="start" fill="#4a4a4a" letter-spacing="0.55">32.6%</text>
<line x1="498.60" y1="349.30" x2="529.30" y2="349.30" stroke="#666" stroke-width="1" stroke-dasharray="3,1.6"/>
<line x1="498.60" y1="342.80" x2="498.60" y2="354.80" stroke="#666" stroke-width="1" stroke-dasharray="2.5,1.5"/>
<line x1="529.30" y1="349.30" x2="529.30" y2="354.80" stroke="#666" stroke-width="1" stroke-dasharray="2.5,1.5"/>
<text x="531.40" y="333.30" font-family='"Liberation Sans", sans-serif' font-size="8.4" font-weight="normal" text-anchor="start" fill="#4a4a4a" >M4</text>
<text x="531.40" y="341.50" font-family='"Liberation Sans", sans-serif' font-size="8.4" font-weight="normal" text-anchor="start" fill="#4a4a4a" letter-spacing="0.55">30.7%</text>
<line x1="529.30" y1="343.20" x2="555.30" y2="343.20" stroke="#666" stroke-width="1" stroke-dasharray="3,1.6"/>
<line x1="529.30" y1="336.70" x2="529.30" y2="348.70" stroke="#666" stroke-width="1" stroke-dasharray="2.5,1.5"/>
<line x1="555.30" y1="343.20" x2="555.30" y2="348.70" stroke="#666" stroke-width="1" stroke-dasharray="2.5,1.5"/>
<text x="1.30" y="245.80" font-family='"Liberation Sans", sans-serif' font-size="21.5" font-weight="normal" text-anchor="start" fill="#000" stroke="#000" stroke-width="0.25">(</text>
<text x="8.60" y="246.20" font-family='"Liberation Sans", sans-serif' font-size="22.5" font-weight="bold" text-anchor="start" fill="#000" >c</text>
<text x="21.40" y="245.80" font-family='"Liberation Sans", sans-serif' font-size="21.5" font-weight="normal" text-anchor="start" fill="#000" stroke="#000" stroke-width="0.25">)</text>
<text x="143.20" y="259.30" font-family='"Liberation Serif", serif' font-size="15.3" font-weight="bold" text-anchor="start" fill="#000" >con</text>
<text x="179.30" y="259.30" font-family='"Liberation Serif", serif' font-size="15.3" font-weight="bold" text-anchor="start" fill="#000" >low</text>
<text x="216.00" y="258.80" font-family='"Liberation Serif", serif' font-size="15.3" font-weight="bold" text-anchor="start" fill="#000" >high</text>
<text x="83.00" y="404.30" font-family='"Liberation Serif", serif' font-size="14.5" font-weight="normal" text-anchor="start" fill="#000" >β</text>
<text x="91.60" y="404.30" font-family='"Liberation Serif", serif' font-size="13.2" font-weight="bold" text-anchor="start" fill="#000" letter-spacing="0.3">-actin</text>
<text x="127.60" y="284.30" font-family='"Liberation Serif", serif' font-size="13.2" font-weight="bold" text-anchor="end" fill="#000" letter-spacing="0.3">CDK 2</text>
<text x="127.75" y="323.70" font-family='"Liberation Serif", serif' font-size="13.2" font-weight="bold" text-anchor="end" fill="#000" letter-spacing="0.45">Cyclin E</text>
<text x="127.75" y="365.50" font-family='"Liberation Serif", serif' font-size="13.2" font-weight="bold" text-anchor="end" fill="#000" letter-spacing="0.45">Cyclin A</text>
<defs>
<filter id="blur1" x="-20%" y="-50%" width="140%" height="200%"><feGaussianBlur stdDeviation="1.2"/></filter>
<filter id="blur2" x="-20%" y="-50%" width="140%" height="200%"><feGaussianBlur stdDeviation="0.9"/></filter>
<linearGradient id="gLow" x1="0" x2="1" y1="0" y2="0"><stop offset="0" stop-color="#6a6a6a"/><stop offset="0.5" stop-color="#404040"/><stop offset="0.75" stop-color="#000"/></linearGradient>
<radialGradient id="gBox" cx="0.55" cy="0.45" r="0.7"><stop offset="0" stop-color="#e8e8e8"/><stop offset="0.6" stop-color="#dfdfdf"/><stop offset="1" stop-color="#cacaca"/></radialGradient>
<linearGradient id="gA" x1="0" x2="1" y1="0" y2="0"><stop offset="0" stop-color="#9a9a9a"/><stop offset="0.03" stop-color="#7c7c7c"/><stop offset="0.5" stop-color="#989898"/><stop offset="1" stop-color="#a8a8a8"/></linearGradient>
<pattern id="hatch" patternUnits="userSpaceOnUse" width="2.75" height="2.75" patternTransform="rotate(-45)">
<rect width="2.75" height="2.75" fill="#585858"/><rect width="1.05" height="2.75" fill="#a8a8a8"/></pattern>
<pattern id="dots" patternUnits="userSpaceOnUse" width="6.8" height="3.4">
<rect width="6.8" height="3.4" fill="#d8d8d8"/><path d="M0.5,0.7 L1.6,2.0 L2.7,0.7" fill="none" stroke="#505050" stroke-width="0.9"/><path d="M3.9,2.4 L5.0,3.7 L6.1,2.4 M3.9,-1.0 L5.0,0.3 L6.1,-1.0" fill="none" stroke="#606060" stroke-width="0.9"/></pattern>
<pattern id="check" patternUnits="userSpaceOnUse" width="6.8" height="6.8">
<rect width="6.8" height="6.8" fill="#fff"/><rect width="3.4" height="3.4" fill="#000"/><rect x="3.4" y="3.4" width="3.4" height="3.4" fill="#000"/></pattern>
</defs>
<rect x="134.30" y="265.30" width="118.90" height="26.40" fill="url(#gBox)" stroke="#000" stroke-width="2"/>
<rect x="133.80" y="307.80" width="118.40" height="24.30" fill="url(#gBox)" stroke="#000" stroke-width="2"/>
<rect x="133.80" y="347.40" width="118.40" height="24.80" fill="url(#gA)" stroke="#000" stroke-width="2"/>
<rect x="133.80" y="387.50" width="120.00" height="24.80" fill="url(#gBox)" stroke="#000" stroke-width="2"/>
<ellipse cx="149.6" cy="279.4" rx="4.0" ry="2.9" fill="#1a1a1a" filter="url(#blur1)"/>
<ellipse cx="166.2" cy="279.6" rx="6.0" ry="3.0" fill="#4a4a4a" filter="url(#blur1)"/>
<path d="M181.50,278.20 L185.08,278.00 L188.67,277.80 L192.25,277.20 L195.83,276.40 L199.42,276.20 L203.00,276.80 Q205.80,276.80 205.80,280.30 Q205.80,283.80 203.00,283.80 L199.42,284.40 L195.83,284.40 L192.25,283.60 L188.67,282.80 L185.08,282.60 L181.50,282.40 Q179.82,282.40 179.82,280.30 Q179.82,278.20 181.50,278.20 Z" fill="url(#gLow)" opacity="1" filter="url(#blur1)"/>
<path d="M218.00,275.80 L221.29,275.40 L224.57,275.20 L227.86,275.20 L231.14,275.20 L234.43,275.40 L237.71,275.60 L241.00,276.00 Q244.20,276.00 244.20,280.00 Q244.20,284.00 241.00,284.00 L237.71,284.80 L234.43,284.60 L231.14,284.80 L227.86,285.00 L224.57,285.20 L221.29,285.00 L218.00,284.80 Q214.40,284.80 214.40,280.30 Q214.40,275.80 218.00,275.80 Z" fill="#000" opacity="1" filter="url(#blur2)"/>
<path d="M149.20,319.60 L153.10,319.40 L157.00,319.20 L160.90,318.80 L164.80,318.30 L168.70,318.40 L172.60,318.90 Q173.80,318.90 173.80,320.40 Q173.80,321.90 172.60,321.90 L168.70,322.40 L164.80,322.40 L160.90,321.60 L157.00,321.00 L153.10,320.80 L149.20,320.60 Q148.80,320.60 148.80,320.10 Q148.80,319.60 149.20,319.60 Z" fill="#000" opacity="1" filter="url(#blur2)"/>
<path d="M184.20,318.00 L187.09,317.60 L189.97,317.60 L192.86,317.80 L195.74,317.80 L198.63,317.60 L201.51,317.20 L204.40,317.40 Q207.60,317.40 207.60,321.40 Q207.60,325.40 204.40,325.40 L201.51,325.60 L198.63,323.80 L195.74,322.60 L192.86,322.80 L189.97,324.20 L187.09,325.20 L184.20,324.60 Q181.56,324.60 181.56,321.30 Q181.56,318.00 184.20,318.00 Z" fill="#000" opacity="1" filter="url(#blur2)"/>
<path d="M217.80,317.80 L221.14,317.60 L224.49,317.40 L227.83,317.60 L231.17,317.60 L234.51,317.40 L237.86,317.40 L241.20,317.80 Q244.72,317.80 244.72,322.20 Q244.72,326.60 241.20,326.60 L237.86,327.20 L234.51,326.60 L231.17,325.80 L227.83,326.00 L224.49,326.80 L221.14,327.20 L217.80,326.80 Q214.20,326.80 214.20,322.30 Q214.20,317.80 217.80,317.80 Z" fill="#000" opacity="1" filter="url(#blur2)"/>
<path d="M149.00,351.60 L154.88,351.00 L160.75,350.80 L166.62,351.00 L172.50,351.40 Q173.62,351.40 173.62,352.80 Q173.62,354.20 172.50,354.20 L166.62,354.60 L160.75,354.80 L154.88,354.60 L149.00,354.20 Q147.96,354.20 147.96,352.90 Q147.96,351.60 149.00,351.60 Z" fill="#3a3a3a" opacity="1" filter="url(#blur1)"/>
<path d="M149.00,361.80 L154.75,361.20 L160.50,361.00 L166.25,361.20 L172.00,361.80 Q173.60,361.80 173.60,363.80 Q173.60,365.80 172.00,365.80 L166.25,366.40 L160.50,366.60 L154.75,366.40 L149.00,365.80 Q147.40,365.80 147.40,363.80 Q147.40,361.80 149.00,361.80 Z" fill="#000" opacity="1" filter="url(#blur1)"/>
<path d="M183.00,356.20 L188.88,354.60 L194.75,354.00 L200.62,354.60 L206.50,356.20 Q207.54,356.20 207.54,357.50 Q207.54,358.80 206.50,358.80 L200.62,357.80 L194.75,357.40 L188.88,357.80 L183.00,358.80 Q181.96,358.80 181.96,357.50 Q181.96,356.20 183.00,356.20 Z" fill="#000" opacity="1" filter="url(#blur1)"/>
<path d="M183.00,360.40 L188.88,359.60 L194.75,359.20 L200.62,359.60 L206.50,360.40 Q206.98,360.40 206.98,361.00 Q206.98,361.60 206.50,361.60 L200.62,361.00 L194.75,360.80 L188.88,361.00 L183.00,361.60 Q182.52,361.60 182.52,361.00 Q182.52,360.40 183.00,360.40 Z" fill="#444" opacity="1" filter="url(#blur1)"/>
<path d="M183.00,363.80 L188.88,362.80 L194.75,362.40 L200.62,362.80 L206.50,363.80 Q207.78,363.80 207.78,365.40 Q207.78,367.00 206.50,367.00 L200.62,366.20 L194.75,365.80 L188.88,366.20 L183.00,367.00 Q181.72,367.00 181.72,365.40 Q181.72,363.80 183.00,363.80 Z" fill="#111" opacity="1" filter="url(#blur1)"/>
<path d="M216.50,357.60 L222.88,356.00 L229.25,355.40 L235.62,356.00 L242.00,357.60 Q243.04,357.60 243.04,358.90 Q243.04,360.20 242.00,360.20 L235.62,359.20 L229.25,358.80 L222.88,359.20 L216.50,360.20 Q215.46,360.20 215.46,358.90 Q215.46,357.60 216.50,357.60 Z" fill="#000" opacity="1" filter="url(#blur1)"/>
<path d="M216.50,364.40 L222.88,363.40 L229.25,363.00 L235.62,363.40 L242.00,364.40 Q243.12,364.40 243.12,365.80 Q243.12,367.20 242.00,367.20 L235.62,366.40 L229.25,366.00 L222.88,366.40 L216.50,367.20 Q215.38,367.20 215.38,365.80 Q215.38,364.40 216.50,364.40 Z" fill="#333" opacity="1" filter="url(#blur1)"/>
<path d="M146.30,397.40 L151.30,398.00 L156.30,398.40 L161.30,398.40 L166.30,398.20 L171.30,397.40 Q173.52,397.40 173.52,401.10 Q173.52,404.80 171.30,404.80 L166.30,404.20 L161.30,404.00 L156.30,404.00 L151.30,404.40 L146.30,404.60 Q144.14,404.60 144.14,401.00 Q144.14,397.40 146.30,397.40 Z" fill="#000" opacity="1" filter="url(#blur2)"/>
<path d="M180.30,397.40 L185.22,398.00 L190.14,398.40 L195.06,398.40 L199.98,398.20 L204.90,397.40 Q207.12,397.40 207.12,401.10 Q207.12,404.80 204.90,404.80 L199.98,404.20 L195.06,404.00 L190.14,404.00 L185.22,404.40 L180.30,404.60 Q178.14,404.60 178.14,401.00 Q178.14,397.40 180.30,397.40 Z" fill="#000" opacity="1" filter="url(#blur2)"/>
<path d="M214.30,397.40 L219.82,398.00 L225.34,398.40 L230.86,398.40 L236.38,398.20 L241.90,397.40 Q244.12,397.40 244.12,401.10 Q244.12,404.80 241.90,404.80 L236.38,404.20 L230.86,404.00 L225.34,404.00 L219.82,404.40 L214.30,404.60 Q212.14,404.60 212.14,401.00 Q212.14,397.40 214.30,397.40 Z" fill="#000" opacity="1" filter="url(#blur2)"/>
<line x1="51.80" y1="472.60" x2="51.80" y2="644.30" stroke="#000" stroke-width="2.8" />
<line x1="50.40" y1="643.10" x2="307.50" y2="643.10" stroke="#000" stroke-width="2.7" />
<line x1="46.20" y1="642.50" x2="51.80" y2="642.50" stroke="#000" stroke-width="1.8" />
<text x="44.20" y="646.60" font-family='"Liberation Sans", sans-serif' font-size="11.6" font-weight="normal" text-anchor="end" fill="#000" >0</text>
<line x1="46.20" y1="600.30" x2="51.80" y2="600.30" stroke="#000" stroke-width="1.8" />
<text x="44.20" y="604.40" font-family='"Liberation Sans", sans-serif' font-size="11.6" font-weight="normal" text-anchor="end" fill="#000" >1</text>
<line x1="46.20" y1="558.10" x2="51.80" y2="558.10" stroke="#000" stroke-width="1.8" />
<text x="44.20" y="562.20" font-family='"Liberation Sans", sans-serif' font-size="11.6" font-weight="normal" text-anchor="end" fill="#000" >2</text>
<line x1="46.20" y1="515.90" x2="51.80" y2="515.90" stroke="#000" stroke-width="1.8" />
<text x="44.20" y="520.00" font-family='"Liberation Sans", sans-serif' font-size="11.6" font-weight="normal" text-anchor="end" fill="#000" >3</text>
<line x1="46.20" y1="473.70" x2="51.80" y2="473.70" stroke="#000" stroke-width="1.8" />
<text x="44.20" y="477.80" font-family='"Liberation Sans", sans-serif' font-size="11.6" font-weight="normal" text-anchor="end" fill="#000" >4</text>
<line x1="93.00" y1="643.00" x2="93.00" y2="648.50" stroke="#000" stroke-width="2" />
<line x1="178.30" y1="643.00" x2="178.30" y2="648.50" stroke="#000" stroke-width="2" />
<line x1="263.80" y1="643.00" x2="263.80" y2="648.50" stroke="#000" stroke-width="2" />
<rect x="67.00" y="589.00" width="20.90" height="54.10" fill="url(#hatch)" stroke="#000" stroke-width="2.2"/>
<line x1="77.90" y1="574.00" x2="77.90" y2="603.80" stroke="#000" stroke-width="2.4" />
<line x1="72.90" y1="575.10" x2="82.90" y2="575.10" stroke="#000" stroke-width="2.2" />
<line x1="72.90" y1="602.70" x2="82.90" y2="602.70" stroke="#000" stroke-width="2.2" />
<rect x="98.60" y="551.70" width="21.20" height="91.40" fill="url(#dots)" stroke="#000" stroke-width="2.2"/>
<line x1="109.20" y1="544.20" x2="109.20" y2="558.00" stroke="#000" stroke-width="2.4" />
<line x1="104.20" y1="545.30" x2="114.20" y2="545.30" stroke="#000" stroke-width="2.2" />
<line x1="104.20" y1="556.90" x2="114.20" y2="556.90" stroke="#000" stroke-width="2.2" />
<rect x="152.00" y="548.10" width="21.40" height="95.00" fill="url(#hatch)" stroke="#000" stroke-width="2.2"/>
<line x1="163.00" y1="534.10" x2="163.00" y2="561.20" stroke="#000" stroke-width="2.4" />
<line x1="158.00" y1="535.20" x2="168.00" y2="535.20" stroke="#000" stroke-width="2.2" />
<line x1="158.00" y1="560.10" x2="168.00" y2="560.10" stroke="#000" stroke-width="2.2" />
<rect x="184.30" y="517.90" width="20.80" height="125.20" fill="url(#dots)" stroke="#000" stroke-width="2.2"/>
<line x1="194.70" y1="484.30" x2="194.70" y2="551.40" stroke="#000" stroke-width="2.4" />
<line x1="189.70" y1="485.40" x2="199.70" y2="485.40" stroke="#000" stroke-width="2.2" />
<line x1="189.70" y1="550.30" x2="199.70" y2="550.30" stroke="#000" stroke-width="2.2" />
<rect x="237.50" y="589.30" width="20.90" height="53.80" fill="url(#hatch)" stroke="#000" stroke-width="2.2"/>
<line x1="248.00" y1="577.00" x2="248.00" y2="600.30" stroke="#000" stroke-width="2.4" />
<line x1="243.00" y1="578.10" x2="253.00" y2="578.10" stroke="#000" stroke-width="2.2" />
<line x1="243.00" y1="599.20" x2="253.00" y2="599.20" stroke="#000" stroke-width="2.2" />
<rect x="269.20" y="588.50" width="20.80" height="54.60" fill="url(#dots)" stroke="#000" stroke-width="2.2"/>
<line x1="279.60" y1="574.10" x2="279.60" y2="601.50" stroke="#000" stroke-width="2.4" />
<line x1="274.60" y1="575.20" x2="284.60" y2="575.20" stroke="#000" stroke-width="2.2" />
<line x1="274.60" y1="600.40" x2="284.60" y2="600.40" stroke="#000" stroke-width="2.2" />
<polyline points="78.2,549.5 78.2,484.8 109.6,484.8 109.6,524" fill="none" stroke="#000" stroke-width="2.4"/>
<text x="95.30" y="476.60" font-family='"Liberation Sans", sans-serif' font-size="12" font-weight="normal" text-anchor="middle" fill="#000" stroke="#000" stroke-width="0.3">#</text>
<rect x="252.45" y="471.55" width="18.4" height="8.80" rx="1.8" fill="url(#hatch)" stroke="#000" stroke-width="2.5"/>
<rect x="252.45" y="493.35" width="18.4" height="8.40" rx="1.8" fill="url(#dots)" stroke="#000" stroke-width="2.5"/>
<text x="280.60" y="480.30" font-family='"Liberation Serif", serif' font-size="13.5" font-weight="bold" text-anchor="start" fill="#000" letter-spacing="0.5">lo</text>
<text x="294.10" y="480.30" font-family='"Liberation Serif", serif' font-size="13.5" font-weight="bold" text-anchor="start" fill="#000" >w</text>
<text x="281.20" y="501.80" font-family='"Liberation Serif", serif' font-size="13.5" font-weight="bold" text-anchor="start" fill="#000" letter-spacing="0.4">high</text>
<text transform="translate(11.80,557.00) rotate(-90)" x="0" y="0" font-family='"Liberation Serif", serif' font-size="14.4" font-weight="bold" text-anchor="middle" fill="#000" >Relative band density</text>
<text transform="translate(28.80,556.40) rotate(-90)" x="0" y="0" font-family='"Liberation Serif", serif' font-size="14.6" font-weight="bold" text-anchor="middle" fill="#000" >(fold of control)</text>
<text transform="translate(93.40,661.50) scale(0.885,1)" x="0" y="0" font-family='"Liberation Serif", serif' font-size="14.2" font-weight="bold" text-anchor="middle" fill="#000" >CDK 2</text>
<text transform="translate(178.50,661.60) scale(0.885,1)" x="0" y="0" font-family='"Liberation Serif", serif' font-size="14.2" font-weight="bold" text-anchor="middle" fill="#000" >Cyclin E</text>
<text transform="translate(263.50,661.60) scale(0.885,1)" x="0" y="0" font-family='"Liberation Serif", serif' font-size="14.2" font-weight="bold" text-anchor="middle" fill="#000" >Cyclin A</text>
<line x1="382.60" y1="472.60" x2="382.60" y2="644.30" stroke="#000" stroke-width="2.8" />
<line x1="381.20" y1="643.10" x2="637.30" y2="643.10" stroke="#000" stroke-width="2.7" />
<line x1="377.40" y1="643.10" x2="382.60" y2="643.10" stroke="#000" stroke-width="1.8" />
<text x="375.60" y="647.20" font-family='"Liberation Sans", sans-serif' font-size="11.6" font-weight="normal" text-anchor="end" fill="#000" >0</text>
<line x1="377.40" y1="586.70" x2="382.60" y2="586.70" stroke="#000" stroke-width="1.8" />
<text x="375.60" y="590.80" font-family='"Liberation Sans", sans-serif' font-size="11.6" font-weight="normal" text-anchor="end" fill="#000" >20</text>
<line x1="377.40" y1="530.30" x2="382.60" y2="530.30" stroke="#000" stroke-width="1.8" />
<text x="375.60" y="534.40" font-family='"Liberation Sans", sans-serif' font-size="11.6" font-weight="normal" text-anchor="end" fill="#000" >40</text>
<line x1="377.40" y1="473.90" x2="382.60" y2="473.90" stroke="#000" stroke-width="1.8" />
<text x="375.60" y="478.00" font-family='"Liberation Sans", sans-serif' font-size="11.6" font-weight="normal" text-anchor="end" fill="#000" >60</text>
<line x1="425.00" y1="643.00" x2="425.00" y2="648.50" stroke="#000" stroke-width="2" />
<line x1="509.40" y1="643.00" x2="509.40" y2="648.50" stroke="#000" stroke-width="2" />
<line x1="593.60" y1="643.00" x2="593.60" y2="648.50" stroke="#000" stroke-width="2" />
<rect x="394.60" y="521.60" width="15.20" height="121.50" fill="url(#check)" stroke="#000" stroke-width="2.2"/>
<line x1="402.20" y1="516.60" x2="402.20" y2="524.50" stroke="#000" stroke-width="2.4" />
<line x1="398.00" y1="517.70" x2="406.40" y2="517.70" stroke="#000" stroke-width="2.2" />
<line x1="398.00" y1="523.40" x2="406.40" y2="523.40" stroke="#000" stroke-width="2.2" />
<rect x="417.80" y="532.80" width="14.90" height="110.30" fill="url(#hatch)" stroke="#000" stroke-width="2.2"/>
<line x1="425.20" y1="513.60" x2="425.20" y2="550.80" stroke="#000" stroke-width="2.4" />
<line x1="421.00" y1="514.70" x2="429.40" y2="514.70" stroke="#000" stroke-width="2.2" />
<line x1="421.00" y1="549.70" x2="429.40" y2="549.70" stroke="#000" stroke-width="2.2" />
<rect x="440.90" y="560.40" width="14.60" height="82.70" fill="url(#dots)" stroke="#000" stroke-width="2.2"/>
<line x1="448.20" y1="538.90" x2="448.20" y2="581.20" stroke="#000" stroke-width="2.4" />
<line x1="444.00" y1="540.00" x2="452.40" y2="540.00" stroke="#000" stroke-width="2.2" />
<line x1="444.00" y1="580.10" x2="452.40" y2="580.10" stroke="#000" stroke-width="2.2" />
<rect x="479.00" y="602.00" width="14.70" height="41.10" fill="url(#check)" stroke="#000" stroke-width="2.2"/>
<line x1="486.30" y1="598.00" x2="486.30" y2="604.00" stroke="#000" stroke-width="2.4" />
<line x1="482.10" y1="599.10" x2="490.50" y2="599.10" stroke="#000" stroke-width="2.2" />
<line x1="482.10" y1="602.90" x2="490.50" y2="602.90" stroke="#000" stroke-width="2.2" />
<rect x="502.20" y="555.10" width="15.10" height="88.00" fill="url(#hatch)" stroke="#000" stroke-width="2.2"/>
<line x1="509.90" y1="539.90" x2="509.90" y2="570.50" stroke="#000" stroke-width="2.4" />
<line x1="505.70" y1="541.00" x2="514.10" y2="541.00" stroke="#000" stroke-width="2.2" />
<line x1="505.70" y1="569.40" x2="514.10" y2="569.40" stroke="#000" stroke-width="2.2" />
<rect x="525.10" y="536.50" width="15.40" height="106.60" fill="url(#dots)" stroke="#000" stroke-width="2.2"/>
<line x1="533.00" y1="519.60" x2="533.00" y2="552.50" stroke="#000" stroke-width="2.4" />
<line x1="528.80" y1="520.70" x2="537.20" y2="520.70" stroke="#000" stroke-width="2.2" />
<line x1="528.80" y1="551.40" x2="537.20" y2="551.40" stroke="#000" stroke-width="2.2" />
<rect x="563.60" y="526.10" width="14.70" height="117.00" fill="url(#check)" stroke="#000" stroke-width="2.2"/>
<line x1="571.00" y1="519.50" x2="571.00" y2="531.20" stroke="#000" stroke-width="2.4" />
<line x1="566.80" y1="520.60" x2="575.20" y2="520.60" stroke="#000" stroke-width="2.2" />
<line x1="566.80" y1="530.10" x2="575.20" y2="530.10" stroke="#000" stroke-width="2.2" />
<rect x="586.70" y="562.20" width="15.10" height="80.90" fill="url(#hatch)" stroke="#000" stroke-width="2.2"/>
<line x1="594.20" y1="558.60" x2="594.20" y2="566.00" stroke="#000" stroke-width="2.4" />
<line x1="590.00" y1="559.70" x2="598.40" y2="559.70" stroke="#000" stroke-width="2.2" />
<line x1="590.00" y1="564.90" x2="598.40" y2="564.90" stroke="#000" stroke-width="2.2" />
<rect x="609.70" y="553.50" width="14.70" height="89.60" fill="url(#dots)" stroke="#000" stroke-width="2.2"/>
<line x1="617.00" y1="547.90" x2="617.00" y2="558.60" stroke="#000" stroke-width="2.4" />
<line x1="612.80" y1="549.00" x2="621.20" y2="549.00" stroke="#000" stroke-width="2.2" />
<line x1="612.80" y1="557.50" x2="621.20" y2="557.50" stroke="#000" stroke-width="2.2" />
<polyline points="425.5,501.4 425.5,481.6 449.1,481.6 449.1,514.1" fill="none" stroke="#000" stroke-width="2.3"/>
<polyline points="508.9,515.7 508.9,481.6 533.4,481.6 533.4,500.5" fill="none" stroke="#000" stroke-width="2.3"/>
<text x="433.90" y="476.20" font-family='"Liberation Sans", sans-serif' font-size="11.2" font-weight="normal" text-anchor="middle" fill="#000" stroke="#000" stroke-width="0.3">#</text>
<text x="444.20" y="476.20" font-family='"Liberation Sans", sans-serif' font-size="11.2" font-weight="normal" text-anchor="middle" fill="#000" stroke="#000" stroke-width="0.3">#</text>
<text x="521.70" y="476.40" font-family='"Liberation Sans", sans-serif' font-size="12" font-weight="normal" text-anchor="middle" fill="#000" stroke="#000" stroke-width="0.3">#</text>
<text x="448.30" y="532.50" font-family='"Liberation Sans", sans-serif' font-size="13" font-weight="normal" text-anchor="middle" fill="#000" >**</text>
<text x="509.70" y="534.30" font-family='"Liberation Sans", sans-serif' font-size="13" font-weight="normal" text-anchor="middle" fill="#000" >**</text>
<text x="532.40" y="516.30" font-family='"Liberation Sans", sans-serif' font-size="13" font-weight="normal" text-anchor="middle" fill="#000" >**</text>
<text x="593.30" y="555.10" font-family='"Liberation Sans", sans-serif' font-size="13" font-weight="normal" text-anchor="middle" fill="#000" >**</text>
<text x="616.00" y="545.50" font-family='"Liberation Sans", sans-serif' font-size="13" font-weight="normal" text-anchor="middle" fill="#000" >**</text>
<rect x="583.55" y="457.85" width="18.2" height="8.40" rx="1.8" fill="url(#check)" stroke="#000" stroke-width="2.5"/>
<rect x="583.55" y="474.85" width="18.2" height="8.70" rx="1.8" fill="url(#hatch)" stroke="#000" stroke-width="2.5"/>
<rect x="583.55" y="491.25" width="18.2" height="8.50" rx="1.8" fill="url(#dots)" stroke="#000" stroke-width="2.5"/>
<text x="612.00" y="466.80" font-family='"Liberation Serif", serif' font-size="13.2" font-weight="bold" text-anchor="start" fill="#000" letter-spacing="1.1">control</text>
<text x="612.00" y="483.40" font-family='"Liberation Serif", serif' font-size="13.2" font-weight="bold" text-anchor="start" fill="#000" letter-spacing="0.5">lo</text>
<text x="625.10" y="483.40" font-family='"Liberation Serif", serif' font-size="13.2" font-weight="bold" text-anchor="start" fill="#000" >w</text>
<text x="612.00" y="499.60" font-family='"Liberation Serif", serif' font-size="13.2" font-weight="bold" text-anchor="start" fill="#000" letter-spacing="0.6">high</text>
<text transform="translate(358.30,559.50) rotate(-90)" x="0" y="0" font-family='"Liberation Serif", serif' font-size="15.0" font-weight="bold" text-anchor="middle" fill="#000" ><tspan font-weight="normal">%</tspan> of distribution</text>
<text transform="translate(424.70,661.60) scale(0.885,1)" x="0" y="0" font-family='"Liberation Serif", serif' font-size="14.2" font-weight="bold" text-anchor="middle" fill="#000" >G0/G1</text>
<text transform="translate(509.50,661.60) scale(0.885,1)" x="0" y="0" font-family='"Liberation Serif", serif' font-size="14.2" font-weight="bold" text-anchor="middle" fill="#000" >S</text>
<text transform="translate(594.00,661.70) scale(0.885,1)" x="0" y="0" font-family='"Liberation Serif", serif' font-size="14.2" font-weight="bold" text-anchor="middle" fill="#000" >G2/M</text>
</svg>
</body></html>
